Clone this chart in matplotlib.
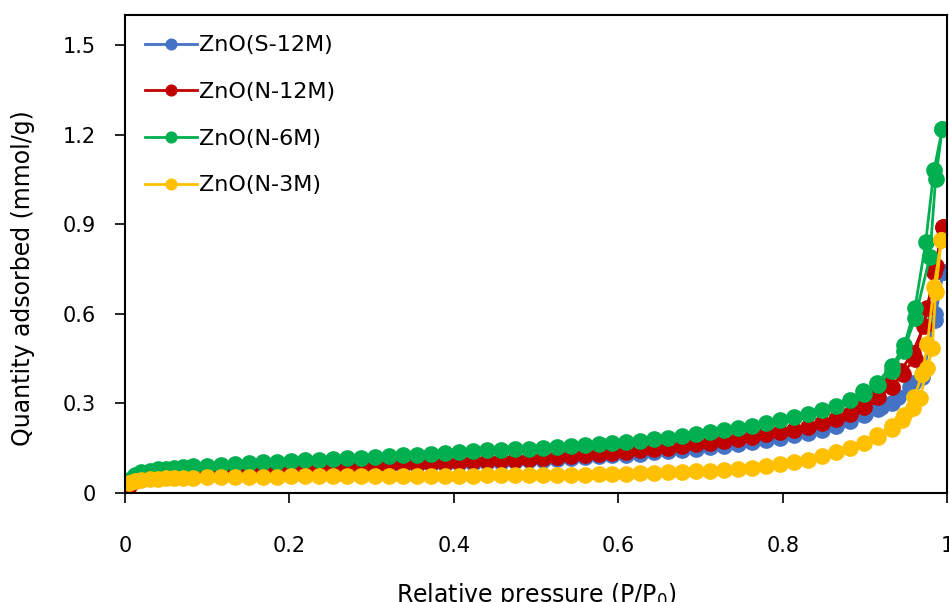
import matplotlib
matplotlib.use('Agg')
import matplotlib.pyplot as plt
import numpy as np

plt.rcParams['font.family'] = ['DejaVu Sans']

# shared relative-pressure grid (adsorption branch, up to 0.933)
P_grid = [0.005, 0.012, 0.02, 0.03, 0.04, 0.05, 0.06, 0.07, 0.083,
          0.100, 0.117, 0.134, 0.151, 0.168, 0.185, 0.202, 0.219, 0.236, 0.253,
          0.270, 0.287, 0.304, 0.321, 0.338, 0.355, 0.372, 0.389, 0.406, 0.423,
          0.440, 0.457, 0.474, 0.491, 0.508, 0.525, 0.542, 0.559, 0.576, 0.593,
          0.610, 0.627, 0.644, 0.661, 0.678, 0.695, 0.712, 0.729, 0.746, 0.763,
          0.780, 0.797, 0.814, 0.831, 0.848, 0.865, 0.882, 0.899, 0.916, 0.933]

s12_ads = [0.030, 0.042, 0.049, 0.053, 0.056, 0.058, 0.060, 0.062, 0.064,
           0.066, 0.068, 0.070, 0.072, 0.074, 0.076, 0.078, 0.080, 0.082, 0.084,
           0.086, 0.088, 0.090, 0.091, 0.093, 0.094, 0.096, 0.097, 0.099, 0.101,
           0.103, 0.105, 0.107, 0.109, 0.111, 0.114, 0.117, 0.120, 0.123, 0.126,
           0.129, 0.132, 0.136, 0.140, 0.144, 0.149, 0.154, 0.159, 0.165, 0.171,
           0.178, 0.185, 0.193, 0.202, 0.212, 0.225, 0.240, 0.260, 0.280, 0.302]
n12_ads = [0.025, 0.040, 0.048, 0.053, 0.056, 0.059, 0.061, 0.063, 0.065,
           0.068, 0.070, 0.072, 0.074, 0.076, 0.078, 0.080, 0.082, 0.084, 0.086,
           0.088, 0.090, 0.092, 0.094, 0.096, 0.098, 0.100, 0.102, 0.104, 0.106,
           0.108, 0.110, 0.112, 0.115, 0.118, 0.121, 0.124, 0.127, 0.131, 0.135,
           0.139, 0.143, 0.147, 0.152, 0.157, 0.163, 0.169, 0.175, 0.182, 0.189,
           0.196, 0.204, 0.212, 0.222, 0.233, 0.247, 0.265, 0.287, 0.320, 0.355]
n6_ads = [0.045, 0.062, 0.070, 0.075, 0.079, 0.082, 0.085, 0.087, 0.089,
          0.092, 0.095, 0.098, 0.100, 0.103, 0.105, 0.107, 0.109, 0.111, 0.113,
          0.116, 0.118, 0.120, 0.123, 0.126, 0.129, 0.132, 0.135, 0.138, 0.141,
          0.143, 0.145, 0.147, 0.149, 0.151, 0.154, 0.157, 0.160, 0.164, 0.168,
          0.171, 0.175, 0.180, 0.185, 0.191, 0.197, 0.203, 0.210, 0.217, 0.225,
          0.234, 0.243, 0.253, 0.264, 0.277, 0.292, 0.310, 0.333, 0.362, 0.410]
n3_ads = [0.035, 0.040, 0.043, 0.046, 0.048, 0.049, 0.050, 0.051, 0.052,
          0.053, 0.054, 0.054, 0.055, 0.055, 0.055, 0.056, 0.056, 0.056, 0.056,
          0.057, 0.057, 0.057, 0.057, 0.057, 0.058, 0.058, 0.058, 0.058, 0.058,
          0.059, 0.059, 0.059, 0.060, 0.060, 0.061, 0.061, 0.062, 0.063, 0.064,
          0.065, 0.066, 0.067, 0.069, 0.071, 0.073, 0.075, 0.078, 0.081, 0.085,
          0.090, 0.096, 0.103, 0.112, 0.123, 0.136, 0.150, 0.167, 0.187, 0.215]

# high-pressure tails of the adsorption branch
s12_tail_p = [0.955, 0.970, 0.985, 0.995]
s12_tail_q = [0.355, 0.390, 0.580, 0.740]
n12_tail_p = [0.946, 0.961, 0.976, 0.986, 0.995]
n12_tail_q = [0.400, 0.450, 0.620, 0.760, 0.890]
n6_tail_p = [0.947, 0.961, 0.979, 0.986, 0.994]
n6_tail_q = [0.475, 0.585, 0.790, 1.050, 1.217]
n3_tail_p = [0.945, 0.958, 0.967, 0.976, 0.982, 0.986, 0.993]
n3_tail_q = [0.244, 0.285, 0.318, 0.420, 0.485, 0.672, 0.846]

# desorption branches (short hysteresis near P/P0 -> 1)
s12_des_p = [0.995, 0.985, 0.972, 0.958, 0.940, 0.920, 0.900]
s12_des_q = [0.740, 0.600, 0.420, 0.370, 0.320, 0.288, 0.265]
n12_des_p = [0.995, 0.984, 0.972, 0.958, 0.944, 0.928, 0.910, 0.890]
n12_des_q = [0.890, 0.740, 0.560, 0.470, 0.410, 0.365, 0.325, 0.295]
n6_des_p = [0.994, 0.984, 0.974, 0.961, 0.948, 0.933, 0.915, 0.898]
n6_des_q = [1.217, 1.080, 0.840, 0.620, 0.495, 0.425, 0.370, 0.340]
n3_des_p = [0.993, 0.984, 0.976, 0.970, 0.960, 0.948, 0.933, 0.915]
n3_des_q = [0.846, 0.690, 0.500, 0.400, 0.320, 0.260, 0.225, 0.195]

labels = ['ZnO(S-12M)', 'ZnO(N-12M)', 'ZnO(N-6M)', 'ZnO(N-3M)']
colors = ['#4472C4', '#C00000', '#00B050', '#FFC000']

series = [
    (s12_ads, s12_tail_p, s12_tail_q, s12_des_p, s12_des_q),
    (n12_ads, n12_tail_p, n12_tail_q, n12_des_p, n12_des_q),
    (n6_ads, n6_tail_p, n6_tail_q, n6_des_p, n6_des_q),
    (n3_ads, n3_tail_p, n3_tail_q, n3_des_p, n3_des_q),
]

fig = plt.figure(figsize=(9.49, 6.02), dpi=100)
ax = fig.add_axes([0.1317, 0.181, 0.8663, 0.794])

for (ads, tp, tq, dp, dq), lab, c in zip(series, labels, colors):
    x = P_grid + tp
    y = ads + tq
    ax.plot(x, y, '-o', color=c, lw=2.0, ms=11, label=lab)
    ax.plot(dp, dq, '-o', color=c, lw=2.0, ms=11)

ax.set_xlim(0, 1)
ax.set_ylim(0, 1.6)
ax.set_xticks([0, 0.2, 0.4, 0.6, 0.8, 1.0])
ax.set_xticklabels(['0', '0.2', '0.4', '0.6', '0.8', '1'])
ax.set_yticks([0, 0.3, 0.6, 0.9, 1.2, 1.5])
ax.set_yticklabels(['0', '0.3', '0.6', '0.9', '1.2', '1.5'])
ax.tick_params(axis='x', direction='out', length=7, width=1.2, pad=24, labelsize=15)
ax.tick_params(axis='y', direction='out', length=7, width=1.2, pad=14, labelsize=15)
for sp in ax.spines.values():
    sp.set_linewidth(1.5)

ax.set_xlabel(r'Relative pressure (P/P$_0$)', fontsize=17, labelpad=18)
ax.set_ylabel('Quantity adsorbed (mmol/g)', fontsize=17)
ax.yaxis.set_label_coords(-0.11, 0.45)

ax.legend(loc='upper left', frameon=False, fontsize=16, handlelength=2.3,
          markerscale=0.7, labelspacing=1.2, handletextpad=0.1,
          borderaxespad=0.3, bbox_to_anchor=(0.006, 0.99))

fig.savefig('out.png', dpi=100)
